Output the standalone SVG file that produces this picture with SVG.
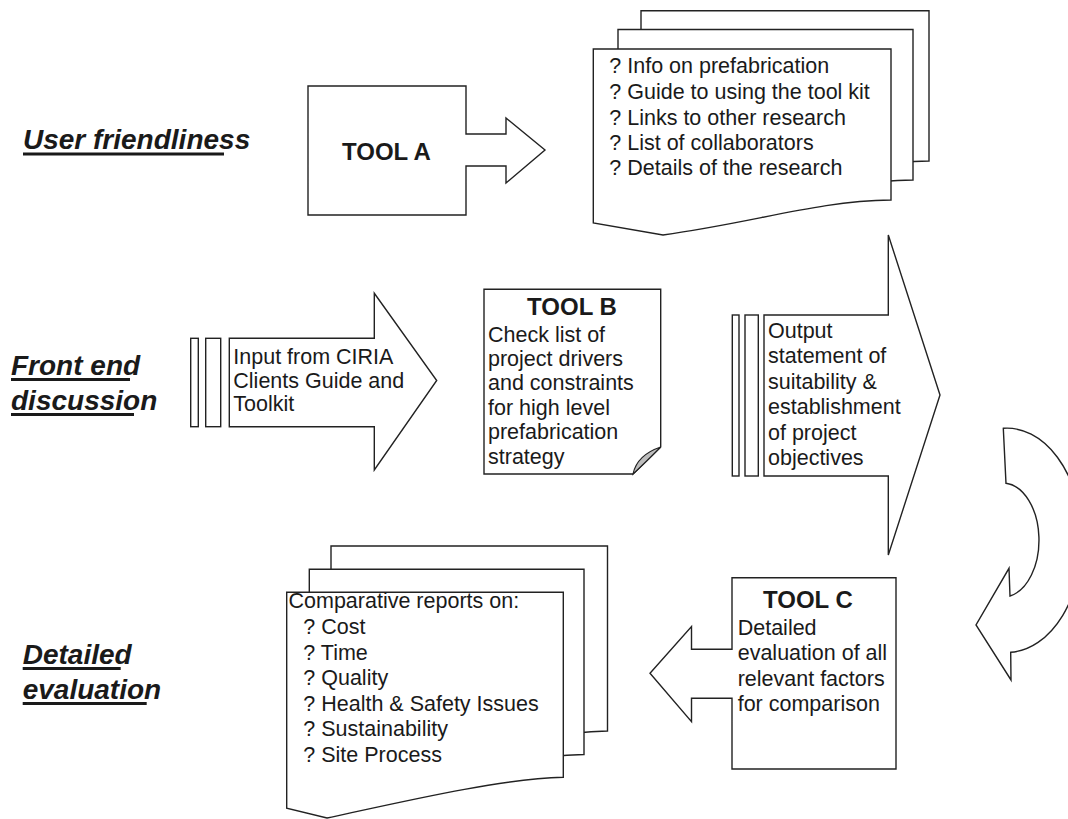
<svg xmlns="http://www.w3.org/2000/svg" width="1068" height="819" viewBox="0 0 1068 819">
<style>
.sh{fill:#fff;stroke:#222;stroke-width:1.4;stroke-linejoin:miter}
.t{font-family:"Liberation Sans",Arial,sans-serif;font-size:21.5px;fill:#1a1a1a}
.tb{font-family:"Liberation Sans",Arial,sans-serif;font-size:24px;font-weight:bold;fill:#1a1a1a}
.lab{font-family:"Liberation Sans",Arial,sans-serif;font-size:28px;font-weight:bold;font-style:italic;fill:#1a1a1a}
.ul{stroke:#1a1a1a;stroke-width:3}
</style>
<rect width="1068" height="819" fill="#fff"/>

<g id="label-user-friendliness">
<text class="lab" x="23" y="148.5">User friendliness</text>
<line class="ul" x1="23" y1="154" x2="224" y2="154"/>
</g>
<g id="label-front-end">
<text class="lab" x="11" y="375">Front end</text>
<line class="ul" x1="11" y1="379.5" x2="130" y2="379.5"/>
<text class="lab" x="11" y="410">discussion</text>
<line class="ul" x1="11" y1="414.5" x2="134" y2="414.5"/>
</g>
<g id="label-detailed">
<text class="lab" x="22.7" y="664">Detailed</text>
<line class="ul" x1="22.7" y1="668.5" x2="120.7" y2="668.5"/>
<text class="lab" x="22.7" y="699">evaluation</text>
<line class="ul" x1="22.7" y1="703.5" x2="146.7" y2="703.5"/>
</g>

<g id="tool-a">
<path class="sh" d="M308,86 H466 V134 H506 V118 L545,150 L506,183 V166 H466 V215 H308 Z"/>
<text class="tb" x="342" y="160">TOOL A</text>
</g>

<g id="tool-a-docs">
<path class="sh" d="M641,10.7 H929 V161 C857,162 800,183 708,196 L641,184 Z"/>
<path class="sh" d="M618,29.5 H913 V180 C839,181 780,202 687,215 L618,203 Z"/>
<path class="sh" d="M593.3,49 H891 V200 C817,201 757,222 663,235 L593.3,223 Z"/>
<text class="t" x="609.3" y="73.3">? Info on prefabrication</text>
<text class="t" x="609.3" y="99.3">? Guide to using the tool kit</text>
<text class="t" x="609.3" y="124.5">? Links to other research</text>
<text class="t" x="609.3" y="150">? List of collaborators</text>
<text class="t" x="609.3" y="175.3">? Details of the research</text>
</g>

<g id="input-arrow">
<rect class="sh" x="190.7" y="338.3" width="7.6" height="88.4"/>
<rect class="sh" x="205.7" y="338.3" width="15" height="88.4"/>
<path class="sh" d="M229.3,338.3 H374.3 V293.3 L436.7,380.5 L374.3,470 V426.7 H229.3 Z"/>
<text class="t" x="233.3" y="364.3">Input from CIRIA</text>
<text class="t" x="233.3" y="387.8">Clients Guide and</text>
<text class="t" x="233.3" y="411.3">Toolkit</text>
</g>

<g id="tool-b">
<path class="sh" d="M484,289.3 H660.7 V447 L633,474 H484 Z"/>
<path d="M633,474 Q637,455 660.7,447 Q645,463 633,474 Z" fill="#bdbdbd" stroke="#222" stroke-width="1.2"/>
<text class="tb" x="572" y="315" text-anchor="middle">TOOL B</text>
<text class="t" x="488" y="341.7">Check list of</text>
<text class="t" x="488" y="366">project drivers</text>
<text class="t" x="488" y="390.3">and constraints</text>
<text class="t" x="488" y="414.8">for high level</text>
<text class="t" x="488" y="439.2">prefabrication</text>
<text class="t" x="488" y="463.5">strategy</text>
</g>

<g id="output-arrow">
<rect class="sh" x="732.3" y="315" width="6.7" height="161"/>
<rect class="sh" x="745" y="315" width="13.3" height="161"/>
<path class="sh" d="M764,315 H888.3 V235 L940,395 L888.3,555 V476 H764 Z"/>
<text class="t" x="768" y="338">Output</text>
<text class="t" x="768" y="363.4">statement of</text>
<text class="t" x="768" y="388.8">suitability &amp;</text>
<text class="t" x="768" y="414.2">establishment</text>
<text class="t" x="768" y="439.6">of project</text>
<text class="t" x="768" y="465">objectives</text>
</g>

<g id="connectors">
<path class="sh" d="M1003.3,428.3 L1006,483.3 A36,57 0 0 1 1010,596 L1009,568.3 L976,625 L1011,680 L1010.7,652.3 A75,112 0 0 0 1003.3,428.3 Z"/>
</g>

<g id="tool-c">
<path class="sh" d="M732,577.7 H896 V769 H732 V698.3 H691.5 V721.7 L650,673.3 L691.5,626.5 V649.3 H732 Z"/>
<text class="tb" x="763" y="608.3">TOOL C</text>
<text class="t" x="737.7" y="635">Detailed</text>
<text class="t" x="737.7" y="660.2">evaluation of all</text>
<text class="t" x="737.7" y="685.5">relevant factors</text>
<text class="t" x="737.7" y="710.7">for comparison</text>
</g>

<g id="tool-c-reports">
<path class="sh" d="M331,546 H607.5 V731 C545,732 480,750 380,770 L331,762 Z"/>
<path class="sh" d="M309.3,569.3 H584 V754.5 C522,755.5 455,773 358,793 L309.3,785 Z"/>
<path class="sh" d="M286.7,592.3 H563.3 V777.3 C500,779 410,800 327,818 L286.7,808.3 Z"/>
<text class="t" x="288.5" y="608.3">Comparative reports on:</text>
<text class="t" x="303.3" y="634">? Cost</text>
<text class="t" x="303.3" y="659.5">? Time</text>
<text class="t" x="303.3" y="685">? Quality</text>
<text class="t" x="303.3" y="710.5">? Health &amp; Safety Issues</text>
<text class="t" x="303.3" y="736">? Sustainability</text>
<text class="t" x="303.3" y="761.5">? Site Process</text>
</g>
</svg>
